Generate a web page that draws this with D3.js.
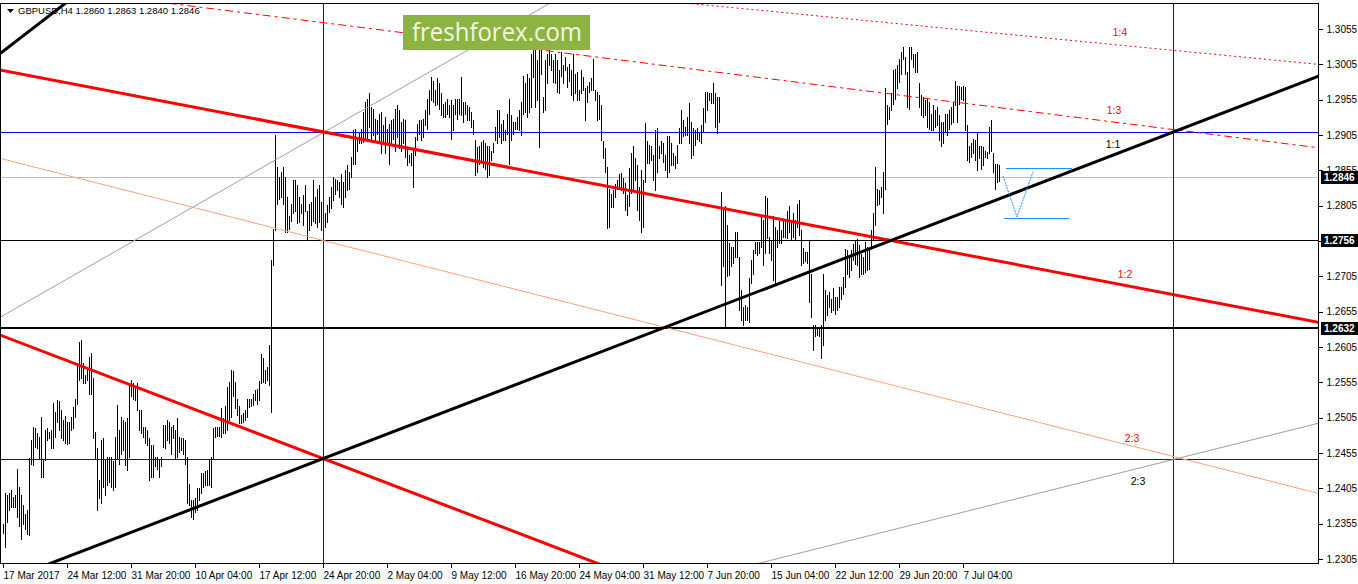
<!DOCTYPE html>
<html>
<head>
<meta charset="utf-8">
<script src="https://cdn.jsdelivr.net/npm/d3@7/dist/d3.min.js"></script>
<style>
    body { margin: 0; background: #fff; }
    svg { display: block; font-family: "Liberation Sans", Arial, sans-serif; }
</style>
</head>
<body>
<div id="root"></div>
<script>
// ---- data ----
var symbolTitle = "GBPUSD,H4";
var lastOhlc = [1.2860, 1.2863, 1.2840, 1.2846];

// H4 bar highs / lows, one entry per bar (17 Mar 2017 .. 11 Jul 2017)
var highs = [
    1.2355,1.2398,1.2396,1.2398,1.2403,1.2393,1.2396,1.2433,1.2407,1.2396,
    1.2381,1.2368,1.2374,1.2448,1.2473,1.2492,1.2490,1.2483,1.2478,1.2506,
    1.2447,1.2487,1.2490,1.2485,1.2487,1.2526,1.2513,1.2530,1.2529,1.2516,
    1.2502,1.2507,1.2499,1.2499,1.2506,1.2520,1.2532,1.2579,1.2612,1.2615,
    1.2582,1.2565,1.2577,1.2591,1.2596,1.2561,1.2485,1.2462,1.2417,1.2473,
    1.2476,1.2447,1.2450,1.2450,1.2450,1.2443,1.2478,1.2523,1.2487,1.2506,
    1.2502,1.2499,1.2504,1.2551,1.2558,1.2554,1.2549,1.2554,1.2516,1.2516,
    1.2492,1.2492,1.2487,1.2476,1.2466,1.2466,1.2450,1.2450,1.2447,1.2450,
    1.2495,1.2495,1.2502,1.2499,1.2492,1.2495,1.2487,1.2504,1.2478,1.2476,
    1.2476,1.2473,1.2450,1.2411,1.2388,1.2388,1.2391,1.2405,1.2405,1.2426,
    1.2426,1.2429,1.2431,1.2445,1.2450,1.2490,1.2492,1.2492,1.2492,1.2518,
    1.2504,1.2521,1.2549,1.2556,1.2573,1.2571,1.2556,1.2531,1.2521,1.2509,
    1.2511,1.2516,1.2532,1.2532,1.2532,1.2539,1.2544,1.2546,1.2557,1.2595,
    1.2589,1.2572,1.2576,1.2608,1.2728,1.2772,1.2905,1.2860,1.2846,1.2853,
    1.2860,1.2846,1.2817,1.2791,1.2808,1.2841,1.2841,1.2834,1.2817,1.2808,
    1.2820,1.2834,1.2798,1.2808,1.2810,1.2841,1.2817,1.2829,1.2834,1.2810,
    1.2798,1.2794,1.2806,1.2817,1.2831,1.2846,1.2843,1.2841,1.2839,1.2850,
    1.2839,1.2855,1.2862,1.2853,1.2874,1.2912,1.2914,1.2902,1.2909,1.2914,
    1.2938,1.2952,1.2956,1.2964,1.2945,1.2942,1.2928,1.2926,1.2935,1.2938,
    1.2919,1.2931,1.2914,1.2921,1.2926,1.2927,1.2942,1.2947,1.2940,1.2923,
    1.2928,1.2926,1.2888,1.2876,1.2879,1.2886,1.2902,1.2921,1.2926,1.2926,
    1.2928,1.2940,1.2956,1.2968,1.2987,1.2982,1.2968,1.2985,1.2978,1.2964,
    1.2949,1.2952,1.2956,1.2947,1.2954,1.2947,1.2956,1.2956,1.2956,1.2987,
    1.2952,1.2952,1.2947,1.2945,1.2938,1.2926,1.2898,1.2888,1.2890,1.2895,
    1.2898,1.2893,1.2890,1.2890,1.2883,1.2893,1.2916,1.2940,1.2940,1.2921,
    1.2926,1.2912,1.2935,1.2956,1.2933,1.2923,1.2923,1.2931,1.2940,1.2952,
    1.2989,1.2978,1.2992,1.2985,1.3020,1.3034,1.3030,1.3011,1.3032,1.3030,
    1.2959,1.3011,1.3020,1.3030,1.3020,1.3011,1.3020,1.3011,1.2997,1.3022,
    1.3004,1.3015,1.3001,1.3006,1.2997,1.3020,1.2992,1.2994,1.2968,1.2997,
    1.2987,1.2971,1.2975,1.2980,1.2985,1.3013,1.2968,1.2966,1.2961,1.2948,
    1.2896,1.2886,1.2860,1.2829,1.2822,1.2827,1.2836,1.2841,1.2850,1.2851,
    1.2844,1.2837,1.2820,1.2858,1.2879,1.2889,1.2872,1.2863,1.2832,1.2856,
    1.2841,1.2922,1.2896,1.2891,1.2889,1.2877,1.2912,1.2915,1.2889,1.2896,
    1.2893,1.2877,1.2903,1.2903,1.2893,1.2879,1.2875,1.2891,1.2915,1.2941,
    1.2926,1.2917,1.2931,1.2950,1.2924,1.2915,1.2912,1.2915,1.2908,1.2919,
    1.2943,1.2966,1.2966,1.2964,1.2964,1.2978,1.2964,1.2959,1.2959,1.2825,
    1.2801,1.2804,1.2778,1.2752,1.2747,1.2747,1.2768,1.2768,1.2733,1.2686,
    1.2662,1.2665,1.2662,1.2702,1.2728,1.2742,1.2754,1.2754,1.2754,1.2792,
    1.2785,1.2818,1.2816,1.2761,1.2757,1.2790,1.2775,1.2771,1.2783,1.2771,
    1.2785,1.2785,1.2797,1.2804,1.2785,1.2794,1.2785,1.2808,1.2813,1.2771,
    1.2745,1.2740,1.2740,1.2757,1.2709,1.2636,1.2636,1.2634,1.2634,1.2636,
    1.2709,1.2685,1.2678,1.2683,1.2673,1.2688,1.2676,1.2676,1.2690,1.2690,
    1.2704,1.2744,1.2742,1.2735,1.2742,1.2751,1.2756,1.2758,1.2749,1.2737,
    1.2732,1.2754,1.2747,1.2744,1.2770,1.2794,1.2860,1.2829,1.2827,1.2831,
    1.2853,1.2971,1.2947,1.2945,1.2964,1.2997,1.2999,1.3004,1.3013,1.3022,
    1.3030,1.3015,1.2994,1.3030,1.3030,1.3020,1.3020,1.3022,1.2978,1.2961,
    1.2959,1.2954,1.2956,1.2952,1.2935,1.2947,1.2940,1.2945,1.2933,1.2923,
    1.2923,1.2935,1.2935,1.2940,1.2945,1.2952,1.2982,1.2975,1.2975,1.2973,
    1.2975,1.2973,1.2919,1.2890,1.2893,1.2900,1.2898,1.2909,1.2890,1.2890,
    1.2888,1.2883,1.2881,1.2916,1.2926,1.2879,1.2864,1.2864,1.2863
];
var lows = [
    1.2342,1.2322,1.2358,1.2374,1.2379,1.2379,1.2378,1.2365,1.2351,1.2334,
    1.2355,1.2348,1.2340,1.2339,1.2440,1.2438,1.2464,1.2462,1.2447,1.2421,
    1.2421,1.2445,1.2473,1.2476,1.2462,1.2462,1.2478,1.2499,1.2487,1.2476,
    1.2473,1.2469,1.2468,1.2469,1.2487,1.2490,1.2506,1.2525,1.2558,1.2561,
    1.2554,1.2554,1.2558,1.2539,1.2539,1.2476,1.2447,1.2374,1.2391,1.2384,
    1.2407,1.2396,1.2410,1.2414,1.2407,1.2403,1.2407,1.2447,1.2440,1.2454,
    1.2459,1.2438,1.2431,1.2450,1.2535,1.2532,1.2530,1.2516,1.2487,1.2483,
    1.2478,1.2469,1.2466,1.2417,1.2421,1.2421,1.2436,1.2433,1.2421,1.2436,
    1.2464,1.2462,1.2473,1.2469,1.2454,1.2476,1.2447,1.2450,1.2457,1.2459,
    1.2454,1.2440,1.2384,1.2381,1.2365,1.2362,1.2372,1.2374,1.2388,1.2398,
    1.2407,1.2410,1.2410,1.2410,1.2407,1.2447,1.2478,1.2479,1.2479,1.2478,
    1.2483,1.2483,1.2487,1.2502,1.2506,1.2535,1.2518,1.2509,1.2498,1.2498,
    1.2499,1.2502,1.2506,1.2520,1.2521,1.2523,1.2530,1.2525,1.2530,1.2554,
    1.2556,1.2554,1.2558,1.2551,1.2513,1.2721,1.2770,1.2808,1.2815,1.2817,
    1.2808,1.2768,1.2768,1.2772,1.2784,1.2794,1.2798,1.2780,1.2782,1.2794,
    1.2777,1.2798,1.2756,1.2770,1.2777,1.2784,1.2780,1.2775,1.2782,1.2770,
    1.2756,1.2775,1.2782,1.2796,1.2801,1.2813,1.2822,1.2827,1.2817,1.2808,
    1.2803,1.2817,1.2827,1.2829,1.2846,1.2864,1.2864,1.2883,1.2893,1.2893,
    1.2895,1.2898,1.2900,1.2916,1.2900,1.2905,1.2898,1.2907,1.2898,1.2879,
    1.2895,1.2879,1.2893,1.2864,1.2893,1.2900,1.2883,1.2902,1.2886,1.2883,
    1.2893,1.2874,1.2862,1.2867,1.2862,1.2831,1.2876,1.2898,1.2907,1.2898,
    1.2902,1.2919,1.2914,1.2935,1.2954,1.2952,1.2947,1.2949,1.2942,1.2933,
    1.2931,1.2931,1.2935,1.2931,1.2900,1.2912,1.2935,1.2928,1.2935,1.2933,
    1.2923,1.2935,1.2926,1.2926,1.2916,1.2907,1.2848,1.2853,1.2864,1.2867,
    1.2860,1.2857,1.2846,1.2848,1.2869,1.2881,1.2898,1.2893,1.2902,1.2893,
    1.2898,1.2898,1.2907,1.2864,1.2898,1.2907,1.2914,1.2914,1.2912,1.2905,
    1.2935,1.2938,1.2931,1.2938,1.2945,1.2987,1.2945,1.2954,1.2888,1.2992,
    1.2938,1.2940,1.2978,1.3004,1.2997,1.2980,1.2978,1.2966,1.2964,1.2989,
    1.2978,1.2997,1.2973,1.2982,1.2961,1.2954,1.2964,1.2954,1.2954,1.2964,
    1.2968,1.2926,1.2952,1.2966,1.2968,1.2968,1.2954,1.2926,1.2928,1.2898,
    1.2872,1.2852,1.2773,1.2775,1.2803,1.2803,1.2817,1.2829,1.2831,1.2827,
    1.2823,1.2799,1.2792,1.2804,1.2823,1.2827,1.2841,1.2799,1.2785,1.2768,
    1.2775,1.2839,1.2865,1.2865,1.2870,1.2841,1.2827,1.2853,1.2872,1.2879,
    1.2867,1.2856,1.2846,1.2853,1.2863,1.2863,1.2858,1.2865,1.2893,1.2893,
    1.2903,1.2905,1.2905,1.2893,1.2872,1.2877,1.2891,1.2900,1.2896,1.2893,
    1.2910,1.2924,1.2941,1.2955,1.2950,1.2950,1.2917,1.2908,1.2924,1.2693,
    1.2719,1.2634,1.2705,1.2707,1.2719,1.2724,1.2733,1.2733,1.2658,1.2643,
    1.2636,1.2643,1.2643,1.2641,1.2695,1.2709,1.2738,1.2735,1.2738,1.2747,
    1.2721,1.2738,1.2759,1.2738,1.2728,1.2700,1.2695,1.2747,1.2752,1.2752,
    1.2761,1.2761,1.2759,1.2768,1.2757,1.2761,1.2757,1.2775,1.2764,1.2721,
    1.2724,1.2726,1.2724,1.2669,1.2648,1.2601,1.2620,1.2622,1.2620,1.2590,
    1.2608,1.2643,1.2650,1.2662,1.2655,1.2657,1.2652,1.2657,1.2662,1.2673,
    1.2680,1.2690,1.2709,1.2704,1.2714,1.2728,1.2723,1.2721,1.2704,1.2709,
    1.2709,1.2711,1.2714,1.2716,1.2747,1.2756,1.2777,1.2806,1.2808,1.2817,
    1.2794,1.2829,1.2921,1.2928,1.2940,1.2949,1.2956,1.2971,1.2980,1.2992,
    1.3013,1.2992,1.2945,1.2942,1.3013,1.3001,1.2994,1.2994,1.2945,1.2933,
    1.2931,1.2933,1.2916,1.2914,1.2912,1.2912,1.2916,1.2919,1.2898,1.2890,
    1.2893,1.2909,1.2905,1.2914,1.2921,1.2923,1.2947,1.2923,1.2949,1.2956,
    1.2954,1.2912,1.2869,1.2867,1.2874,1.2879,1.2869,1.2855,1.2872,1.2857,
    1.2862,1.2874,1.2872,1.2879,1.2883,1.2853,1.2829,1.2839,1.2840
];

// time axis: a label every 32 bars
var timeLabels = ["17 Mar 2017", "24 Mar 12:00", "31 Mar 20:00", "10 Apr 04:00", "17 Apr 12:00",
    "24 Apr 20:00", "2 May 04:00", "9 May 12:00", "16 May 20:00", "24 May 04:00", "31 May 12:00",
    "7 Jun 20:00", "15 Jun 04:00", "22 Jun 12:00", "29 Jun 20:00", "7 Jul 04:00"];
var timeLabelBars = [0, 32, 64, 96, 128, 160, 192, 224, 256, 288, 320, 352, 384, 416, 448, 480];

var priceTicks = [1.3055, 1.3005, 1.2955, 1.2905, 1.2855, 1.2805, 1.2755, 1.2705,
    1.2655, 1.2605, 1.2555, 1.2505, 1.2455, 1.2405, 1.2355, 1.2305];

// horizontal levels
var bidPrice = 1.2846;
var blueLevels = [1.2909, 1.2447];
var supportThin = 1.2756;
var supportThick = 1.2632;
// vertical lines (bar index)
var blueTimes = [160, 585];

// trend / fan lines: [bar1, price1, bar2, price2]
var line11 = [160, 1.2447, 585, 1.2909];
var line12 = [-1.5, 1.2997, 657.5, 1.2640];
var lineLowRed = [-1.5, 1.2622, 297, 1.2299];
var line23 = [-1.5, 1.2872, 657.5, 1.2398];
var lineGrayUp = [-1.5, 1.2647, 272.5, 1.3090];
var lineGrayLow = [378, 1.2299, 657.5, 1.2497];
var line13 = [78.5, 1.3093, 657.5, 1.2887];
var line14 = [340, 1.3092, 657.5, 1.3005];
var lineTopLeft = [-0.15, 1.3023, 31, 1.3091];

// fan ratio labels: text, bar, price
var fanLabelText = ["1:4", "1:3", "1:1", "1:2", "2:3", "2:3"];
var fanLabelBar = [558.5, 555.5, 555, 561, 564.5, 567.5];
var fanLabelPrice = [1.3045, 1.2935, 1.2887, 1.2703, 1.2471, 1.2410];

// projected pattern (light blue)
var patternTop = [501.5, 1.2858, 534.5, 1.2858];
var patternBottom = [500.5, 1.2788, 533, 1.2788];
var patternVBars = [500, 507, 515];
var patternVPrices = [1.2847, 1.2789, 1.2853];

// ---- drawing ----
var W = 1358, H = 584,
    plot = { left: 0, top: 3, right: 1318, bottom: 563 };

var svg = d3.select("#root").append("svg")
    .attr("width", W).attr("height", H);

var x = d3.scaleLinear().domain([0, 498]).range([3, 999]);
var y = d3.scaleLinear().domain([1.2305, 1.3055]).range([559, 29]);

svg.append("defs").append("clipPath").attr("id", "plotClip")
    .append("rect")
    .attr("x", plot.left).attr("y", plot.top)
    .attr("width", plot.right - plot.left).attr("height", plot.bottom - plot.top);

var g = svg.append("g").attr("clip-path", "url(#plotClip)");

// bid line sits behind the bars
g.append("line").attr("x1", plot.left).attr("x2", plot.right)
    .attr("y1", Math.round(y(bidPrice)) + 0.5).attr("y2", Math.round(y(bidPrice)) + 0.5)
    .attr("stroke", "#c0c0c0").attr("shape-rendering", "crispEdges");

// bars (high-low only at this zoom)
g.append("g").selectAll("line")
    .data(highs)
    .enter().append("line")
    .attr("x1", function (d, i) { return Math.round(x(i)) + 0.5; })
    .attr("x2", function (d, i) { return Math.round(x(i)) + 0.5; })
    .attr("y1", function (d) { return Math.round(y(d)); })
    .attr("y2", function (d, i) { return Math.round(y(lows[i])) + 1; })
    .attr("stroke", "#000").attr("stroke-width", 1)
    .attr("shape-rendering", "crispEdges");

function hLine(price, color, width) {
    var yy = Math.round(y(price)) + (width % 2 ? 0.5 : 0);
    g.append("line").attr("x1", plot.left).attr("x2", plot.right)
        .attr("y1", yy).attr("y2", yy)
        .attr("stroke", color).attr("stroke-width", width)
        .attr("shape-rendering", "crispEdges");
}
function vLine(bar, color) {
    var xx = Math.round(x(bar)) + 0.5;
    g.append("line").attr("x1", xx).attr("x2", xx)
        .attr("y1", plot.top).attr("y2", plot.bottom)
        .attr("stroke", color).attr("shape-rendering", "crispEdges");
}

hLine(supportThin, "#000", 1);
hLine(supportThick, "#000", 2);
blueLevels.forEach(function (p) { hLine(p, "#0000ff", 1); });
blueTimes.forEach(function (b) { vLine(b, "#0000ff"); });

// infinite line through two anchors, clipped to the plot
function ray(a, color, width, dash) {
    var x1 = x(a[0]), y1 = y(a[1]), x2 = x(a[2]), y2 = y(a[3]);
    var k = (y2 - y1) / (x2 - x1);
    var xa = -20, xb = W + 20;
    g.append("line")
        .attr("x1", xa).attr("y1", y1 + k * (xa - x1))
        .attr("x2", xb).attr("y2", y1 + k * (xb - x1))
        .attr("stroke", color).attr("stroke-width", width)
        .attr("stroke-dasharray", dash || null);
}

ray(lineGrayUp, "#a0a0a0", 1);
ray(lineGrayLow, "#a0a0a0", 1);
ray(line23, "#ffa07a", 1);
ray(line14, "#ff0000", 1, "2,3");
ray(line13, "#ff0000", 1, "8,4,3,4");
ray(line12, "#ff0000", 3);
ray(lineLowRed, "#ff0000", 3);
ray(line11, "#000", 3);
ray(lineTopLeft, "#000", 3);

// pattern
var pat = g.append("g").attr("stroke", "#1e90ff").attr("fill", "none");
[patternTop, patternBottom].forEach(function (a) {
    pat.append("line")
        .attr("x1", x(a[0])).attr("x2", x(a[2]))
        .attr("y1", Math.round(y(a[1])) + 0.5).attr("y2", Math.round(y(a[3])) + 0.5)
        .attr("shape-rendering", "crispEdges");
});
pat.append("path")
    .attr("stroke-dasharray", "2,1")
    .attr("d", d3.line()
        .x(function (d, i) { return x(d); })
        .y(function (d, i) { return y(patternVPrices[i]); })(patternVBars));

// fan labels
g.append("g").selectAll("text")
    .data(fanLabelText)
    .enter().append("text")
    .attr("x", function (d, i) { return x(fanLabelBar[i]); })
    .attr("y", function (d, i) { return y(fanLabelPrice[i]); })
    .attr("text-anchor", "middle")
    .attr("font-size", "10.5px")
    .attr("fill", function (d, i) { return (i === 2 || i === 5) ? "#000" : "#ff0000"; })
    .text(function (d) { return d; });

// watermark
var wm = svg.append("g");
wm.append("rect").attr("x", 403).attr("y", 15).attr("width", 187).attr("height", 35)
    .attr("fill", "#8db440");
wm.append("text").attr("x", 412).attr("y", 41)
    .attr("font-family", "'Open Sans', sans-serif").attr("font-size", "26px")
    .attr("textLength", 170).attr("lengthAdjust", "spacingAndGlyphs")
    .attr("fill", "#f3f7e6")
    .text("freshforex.com");

// frame
svg.append("rect")
    .attr("x", plot.left + 0.5).attr("y", plot.top + 0.5)
    .attr("width", plot.right - plot.left).attr("height", plot.bottom - plot.top)
    .attr("fill", "none").attr("stroke", "#000")
    .attr("shape-rendering", "crispEdges");

// price axis
var yAxis = d3.axisRight(y)
    .tickValues(priceTicks)
    .tickSize(4)
    .tickPadding(4)
    .tickFormat(d3.format(".4f"));

var yAxisG = svg.append("g")
    .attr("transform", "translate(" + (plot.right + 0.5) + ",0)")
    .call(yAxis);
yAxisG.select(".domain").remove();
yAxisG.selectAll("line").attr("stroke", "#000").attr("shape-rendering", "crispEdges");
yAxisG.selectAll("text").attr("font-size", "10px").attr("font-family", "'Liberation Sans', Arial, sans-serif")
    .attr("fill", "#000");

// marked prices on the axis
var marked = [bidPrice, supportThin, supportThick];
var mk = svg.append("g");
marked.forEach(function (p) {
    var yy = Math.round(y(p));
    mk.append("rect").attr("x", plot.right + 3).attr("y", yy - 6)
        .attr("width", W - plot.right - 3).attr("height", 13).attr("fill", "#000");
    mk.append("text").attr("x", plot.right + 6).attr("y", yy + 4)
        .attr("font-size", "10px").attr("font-weight", "bold").attr("fill", "#fff")
        .text(d3.format(".4f")(p));
});

// time axis
var xAxis = d3.axisBottom(x)
    .tickValues(timeLabelBars)
    .tickSize(4)
    .tickFormat(function (d, k) { return timeLabels[k]; });

var xAxisG = svg.append("g")
    .attr("transform", "translate(0," + (plot.bottom + 0.5) + ")")
    .call(xAxis);
xAxisG.select(".domain").remove();
xAxisG.selectAll("line").attr("stroke", "#000").attr("shape-rendering", "crispEdges");
xAxisG.selectAll("text")
    .attr("text-anchor", "start")
    .attr("x", 0).attr("y", 8).attr("dy", "0.71em")
    .attr("font-size", "10px").attr("font-family", "'Liberation Sans', Arial, sans-serif")
    .attr("fill", "#000");

// header
svg.append("path").attr("d", "M7,9 L14,9 L10.5,13 Z").attr("fill", "#000");
svg.append("text").attr("x", 18).attr("y", 14)
    .attr("font-size", "9.5px").attr("fill", "#000")
    .text(symbolTitle + "  " + lastOhlc.map(d3.format(".4f")).join(" "));
</script>
</body>
</html>
